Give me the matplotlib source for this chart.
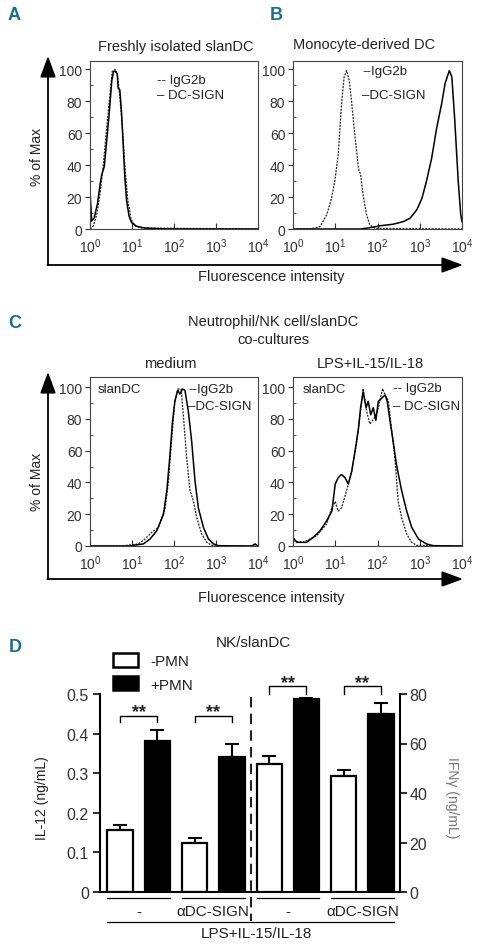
import matplotlib
matplotlib.use('Agg')
import matplotlib.pyplot as plt
from matplotlib.patches import Rectangle
import numpy as np

plt.rcParams['font.family'] = ['Liberation Sans Narrow', 'Liberation Sans', 'DejaVu Sans']
plt.rcParams['mathtext.default'] = 'regular'
plt.rcParams['text.color'] = '#222222'
plt.rcParams['xtick.color'] = '#333333'
plt.rcParams['ytick.color'] = '#333333'

W, H = 480, 945
TEAL = '#1a6e93'

# ---- histogram data: log10(fluorescence), % of max ----
# A: freshly isolated slanDC
A_igg_log = [0.0, 0.08, 0.16, 0.24, 0.32, 0.4, 0.48, 0.53, 0.6, 0.66, 0.71, 0.77, 0.83, 0.9, 0.98, 1.07, 1.23, 4.0]
A_igg_pct = [0, 2, 9, 22, 41, 64, 85, 98.5, 99.6, 95, 83, 64, 39, 18, 6, 2, 0.6, 0]
A_dc_log = [0.0, 0.0, 0.04, 0.1, 0.18, 0.24, 0.28, 0.34, 0.4, 0.45, 0.52, 0.56, 0.61, 0.65, 0.67, 0.71,
            0.75, 0.79, 0.83, 0.87, 0.93, 0.99, 1.11, 1.31, 1.63, 2.0, 4.0]
A_dc_pct = [0, 24, 5, 7, 16, 28, 34, 39, 56, 70, 93, 98.5, 98.5, 97, 88, 87,
            73, 53, 32, 18, 8, 4, 1.7, 0.6, 0.2, 0, 0]

# B: monocyte-derived DC
B_igg_log = [0.0, 0.4, 0.64, 0.8, 0.91, 0.99, 1.07, 1.15, 1.21, 1.27, 1.33, 1.39, 1.47, 1.55, 1.6,
             1.66, 1.74, 1.82, 1.94, 4.0]
B_igg_pct = [0, 0, 1.5, 9, 19, 30, 46.5, 78.6, 95, 99, 93, 78.6, 57, 38, 34,
             21, 9, 2.5, 0.4, 0]
B_dc_log = [0.0, 1.59, 1.82, 2.06, 2.37, 2.61, 2.77, 2.93, 3.05, 3.16, 3.28, 3.4, 3.52, 3.6, 3.7,
            3.76, 3.83, 3.91, 3.97, 4.0]
B_dc_pct = [0, 0, 0.8, 2, 3, 4.6, 6.7, 12, 19, 30, 44, 63, 78.6, 91, 99,
            95, 67.5, 30, 9, 4.6]

# C: co-cultures, medium
Cm_igg_log = [0.0, 0.75, 1.15, 1.31, 1.47, 1.63, 1.79, 1.87, 1.94, 2.02, 2.09, 2.17, 2.22, 2.3, 2.38,
              2.46, 2.54, 2.66, 2.78, 2.9, 3.1, 4.0]
Cm_igg_pct = [0, 0, 1.3, 4.4, 8.6, 11.7, 24, 41, 66, 91, 98.7, 98.7, 83, 56, 35,
              28.5, 18, 7.5, 2.3, 0.4, 0, 0]
Cm_dc_log = [0.0, 0.91, 1.27, 1.43, 1.59, 1.75, 1.83, 1.9, 1.96, 2.02, 2.09, 2.14, 2.2, 2.26, 2.34,
             2.42, 2.5, 2.58, 2.7, 2.82, 2.94, 3.06, 3.85, 3.93, 4.0]
Cm_dc_pct = [0, 0, 1.3, 4.4, 9.6, 20, 35, 56, 77, 91, 98, 95.6, 98.7, 98, 85,
             66, 41, 24, 11.7, 4.4, 1.3, 0.2, 0, 1.3, 0]

# C: co-cultures, LPS+IL-15/IL-18
Cl_igg_log = [0.0, 0.24, 0.56, 0.8, 0.92, 1.0, 1.07, 1.15, 1.27, 1.39, 1.51, 1.6, 1.66, 1.74, 1.82,
              1.94, 2.02, 2.12, 2.18, 2.26, 2.33, 2.41, 2.49, 2.57, 2.69, 2.81, 2.93, 4.0]
Cl_igg_pct = [3.3, 2.3, 6.5, 14, 24, 28, 22, 24, 35, 47, 66, 85, 99, 85, 76.7,
              81, 87, 99, 95, 91, 74, 56, 28, 18, 7.5, 2.3, 0.4, 0]
Cl_dc_log = [0.0, 0.09, 0.32, 0.48, 0.64, 0.8, 0.92, 1.0, 1.07, 1.15, 1.23, 1.31, 1.39, 1.47, 1.55,
             1.6, 1.66, 1.73, 1.78, 1.84, 1.9, 1.96, 2.02, 2.1, 2.18, 2.23, 2.3, 2.37, 2.45,
             2.57, 2.69, 2.81, 2.97, 3.16, 3.32, 4.0]
Cl_dc_pct = [5.4, 2.3, 2.3, 5.4, 9.6, 16, 22, 39, 43, 45, 43, 39, 47, 60, 74,
             87, 97, 87, 91, 82.5, 87, 79, 91, 93, 95, 91, 78, 66, 51,
             35, 22, 11.7, 4.4, 1.3, 0.2, 0]

x_ticks = [1, 10, 100, 1000, 10000]
y_ticks = [0, 20, 40, 60, 80, 100]

# ---- D: cytokine bars ----
groups = ['-', '\u03b1DC-SIGN', '-', '\u03b1DC-SIGN']
il12_minus = [0.157, 0.125]
il12_minus_err = [0.012, 0.011]
il12_plus = [0.382, 0.342]
il12_plus_err = [0.028, 0.033]
ifng_minus = [51.7, 47.0]
ifng_minus_err = [3.4, 2.4]
ifng_plus = [78.0, 71.9]
ifng_plus_err = [0.4, 4.3]
il12_ticks = [0, 0.1, 0.2, 0.3, 0.4, 0.5]
ifng_ticks = [0, 20, 40, 60, 80]

fig = plt.figure(figsize=(W / 100, H / 100), dpi=100)


def box(l, t, r, b):
    return [l / W, 1 - b / H, (r - l) / W, (b - t) / H]


# overlay in pixel coordinates for the free text and the big arrows
bg = fig.add_axes([0, 0, 1, 1])
bg.set_xlim(0, W)
bg.set_ylim(H, 0)
bg.axis('off')
bg.set_zorder(10)


def hist_panel(rect, ytop, curves):
    ax = fig.add_axes(box(*rect))
    for logs, pct, dotted in curves:
        if dotted:
            ax.plot(10 ** np.array(logs), pct, color='#222222', lw=0.9, ls=(0, (1.6, 1.0)))
        else:
            ax.plot(10 ** np.array(logs), pct, color='black', lw=1.1)
    ax.set_xscale('log')
    ax.set_xlim(1, 1e4)
    ax.set_ylim(0, ytop)
    ax.set_xticks(x_ticks)
    ax.set_yticks(y_ticks)
    ax.set_yticks(np.arange(10, 100, 20), minor=True)
    ax.tick_params(axis='x', which='both', direction='in', labelsize=10, pad=5)
    ax.tick_params(axis='x', which='major', length=4, width=0.8)
    ax.tick_params(axis='x', which='minor', length=2.5, width=0.6)
    ax.tick_params(axis='y', which='major', direction='out', length=3.5, width=0.8, labelsize=10, pad=2)
    ax.tick_params(axis='y', which='minor', direction='in', length=2, width=0.6)
    for s in ax.spines.values():
        s.set_linewidth(0.8)
        s.set_color('#444444')
    return ax


axA = hist_panel((90, 62, 258, 230), 105, [(A_igg_log, A_igg_pct, True), (A_dc_log, A_dc_pct, False)])
axB = hist_panel((293, 62, 462, 230), 105, [(B_igg_log, B_igg_pct, True), (B_dc_log, B_dc_pct, False)])
axC1 = hist_panel((90, 378, 258, 547), 106.3, [(Cm_igg_log, Cm_igg_pct, True), (Cm_dc_log, Cm_dc_pct, False)])
axC2 = hist_panel((293, 378, 462, 547), 106.3, [(Cl_igg_log, Cl_igg_pct, True), (Cl_dc_log, Cl_dc_pct, False)])

# big axis arrows
arrow = dict(arrowstyle='-|>,head_length=1.3,head_width=0.48', lw=1.3, color='black',
             mutation_scale=10, shrinkA=0, shrinkB=0)
for ytop, ybase in [(57, 266), (373, 580)]:
    bg.annotate('', xy=(48, ytop), xytext=(48, ybase), arrowprops=arrow)
    bg.annotate('', xy=(463, ybase), xytext=(47.4, ybase), arrowprops=arrow)

# panel texts
bg.text(14, 15, 'A', color=TEAL, fontsize=13, fontweight='bold', ha='center', va='center')
bg.text(276, 15, 'B', color=TEAL, fontsize=13, fontweight='bold', ha='center', va='center')
bg.text(15, 323, 'C', color=TEAL, fontsize=13, fontweight='bold', ha='center', va='center')
bg.text(15, 648, 'D', color=TEAL, fontsize=13, fontweight='bold', ha='center', va='center')

bg.text(176, 47, 'Freshly isolated slanDC', fontsize=10.5, ha='center', va='center')
bg.text(364, 45, 'Monocyte-derived DC', fontsize=10.5, ha='center', va='center')
for y in (157, 482):
    bg.text(37, y, '% of Max', fontsize=10, rotation=90, ha='center', va='center')
bg.text(271, 277, 'Fluorescence intensity', fontsize=10.5, ha='center', va='center')
bg.text(271, 598, 'Fluorescence intensity', fontsize=10.5, ha='center', va='center')

bg.text(273, 322, 'Neutrophil/NK cell/slanDC', fontsize=10.5, ha='center', va='center')
bg.text(273, 340, 'co-cultures', fontsize=10.5, ha='center', va='center')
bg.text(170, 364, 'medium', fontsize=10.5, ha='center', va='center')
bg.text(370, 364, 'LPS+IL-15/IL-18', fontsize=10.5, ha='center', va='center')

for x, y1, y2, sp in [(157, 81, 96, ' '), (362, 72, 96, ''), (188, 390, 407, ''), (393, 389, 407, ' ')]:
    bg.text(x, y1, '--' + sp + 'IgG2b', fontsize=9.5, ha='left', va='center')
    bg.text(x, y2, '\u2013' + sp + 'DC-SIGN', fontsize=9.5, ha='left', va='center')
bg.text(98, 390, 'slanDC', fontsize=9.5, ha='left', va='center')
bg.text(303, 390, 'slanDC', fontsize=9.5, ha='left', va='center')

# ---- panel D ----
axD = fig.add_axes(box(100, 695, 400, 893))
axR = axD.twinx()
xpos = np.arange(8)
bw = 0.68
il12_vals = [il12_minus[0], il12_plus[0], il12_minus[1], il12_plus[1]]
il12_errs = [il12_minus_err[0], il12_plus_err[0], il12_minus_err[1], il12_plus_err[1]]
ifng_vals = [ifng_minus[0], ifng_plus[0], ifng_minus[1], ifng_plus[1]]
ifng_errs = [ifng_minus_err[0], ifng_plus_err[0], ifng_minus_err[1], ifng_plus_err[1]]
fills = ['white', 'black', 'white', 'black']

for ax, xs, vals, errs in [(axD, xpos[:4], il12_vals, il12_errs), (axR, xpos[4:], ifng_vals, ifng_errs)]:
    ax.errorbar(xs, vals, yerr=[np.zeros(4), errs], fmt='none', ecolor='black', elinewidth=1.5,
                capsize=4.7, capthick=1.5, zorder=1)
    ax.bar(xs, vals, width=bw, color=fills, edgecolor='black', linewidth=1.6, zorder=2)

axD.set_xlim(-0.536, 7.507)
axD.set_ylim(0, 0.5)
axR.set_ylim(0, 80)
axD.set_yticks(il12_ticks)
axD.set_yticklabels(['0', '0.1', '0.2', '0.3', '0.4', '0.5'])
axR.set_yticks(ifng_ticks)
axD.set_xticks([])
for s in ('top', 'right'):
    axD.spines[s].set_visible(False)
for s in ('top', 'left', 'bottom'):
    axR.spines[s].set_visible(False)
axD.spines['left'].set_linewidth(1.5)
axD.spines['bottom'].set_linewidth(1.5)
axR.spines['right'].set_linewidth(1.5)
axD.tick_params(axis='y', direction='out', length=5, width=1.5, labelsize=11.5, pad=3)
axR.tick_params(axis='y', direction='out', length=5, width=1.5, labelsize=11.5, pad=2)

# significance brackets
for ax, pair, yb, yd, yt in [(axD, (0, 1), 0.444, 0.429, 0.455), (axD, (2, 3), 0.444, 0.429, 0.455),
                             (axR, (4, 5), 83.2, 80.0, 84.8), (axR, (6, 7), 83.2, 80.0, 84.8)]:
    x0, x1 = xpos[pair[0]], xpos[pair[1]]
    ax.plot([x0, x0, x1, x1], [yd, yb, yb, yd], color='black', lw=1.0, clip_on=False)
    ax.text((x0 + x1) / 2, yt, '**', fontsize=13, fontweight='bold', ha='center', va='center')

# group annotation under the bars
tr = axD.get_xaxis_transform()
for g in range(4):
    a, b = xpos[2 * g], xpos[2 * g + 1]
    axD.plot([a - bw / 2, b + bw / 2], [-0.03, -0.03], color='black', lw=0.9, clip_on=False, transform=tr)
    axD.text((a + b) / 2, -0.098, groups[g], fontsize=11, ha='center', va='center', transform=tr)
axD.plot([xpos[0] - bw / 2, xpos[-1] + bw / 2], [-0.152, -0.152], color='black', lw=0.9,
         clip_on=False, transform=tr)
axD.text(3.67, -0.205, 'LPS+IL-15/IL-18', fontsize=11, ha='center', va='center', transform=tr)
axD.plot([3.5, 3.5], [0.985, -0.146], color='#222222', lw=1.5, ls=(0, (5, 3)), clip_on=False, transform=tr)

leg = axD.legend([Rectangle((0, 0), 1, 1, fc='white', ec='black', lw=1.8),
                  Rectangle((0, 0), 1, 1, fc='black', ec='black', lw=1.8)],
                 ['-PMN', '+PMN'], loc='upper left', bbox_to_anchor=(113 / W, 1 - 654 / H),
                 bbox_transform=fig.transFigure, frameon=False, fontsize=11, handlelength=1.65,
                 handleheight=1.0, labelspacing=0.55, handletextpad=0.8, borderpad=0, borderaxespad=0)

bg.text(253, 643, 'NK/slanDC', fontsize=11, ha='center', va='center')
bg.text(42, 798, 'IL-12 (ng/mL)', fontsize=10, rotation=90, ha='center', va='center')
bg.text(452, 798, 'IFN\u03b3 (ng/mL)', fontsize=10, rotation=-90, ha='center', va='center', color='#777777')

fig.savefig('out.png', dpi=100)
